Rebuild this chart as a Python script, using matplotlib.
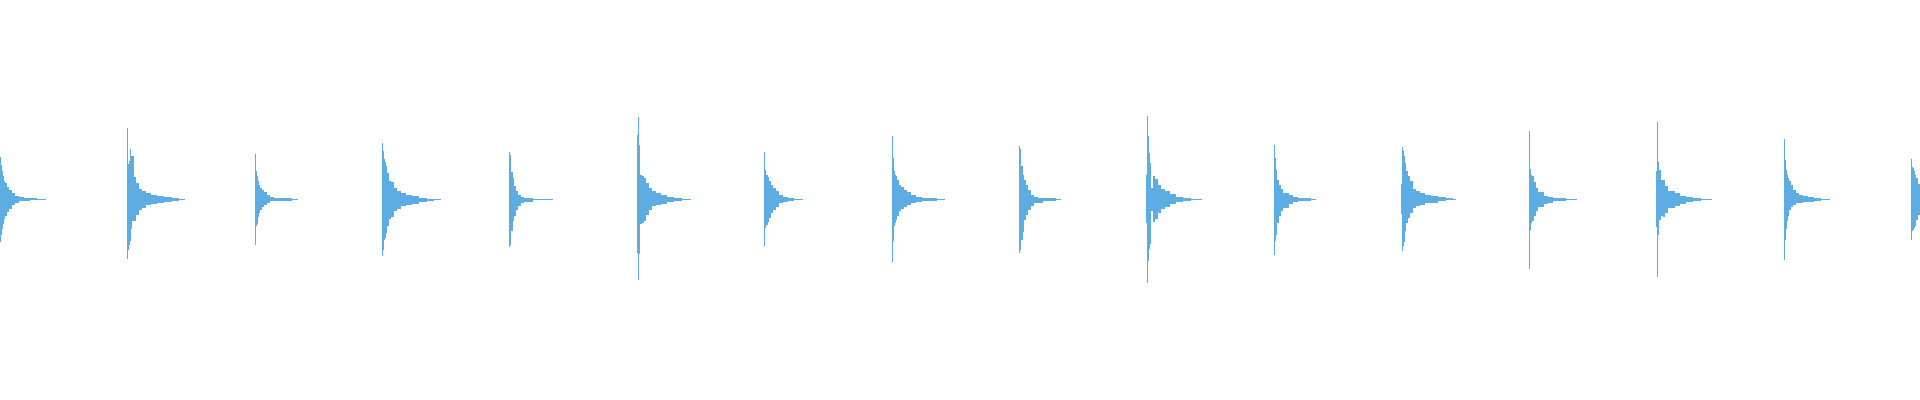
import matplotlib
matplotlib.use("Agg")
import matplotlib.pyplot as plt

# waveform of 16 drum hits, x = screen column, amplitude in level units
offsets = [0, 1, 2, 3, 4, 5, 7, 9, 12, 15, 19, 24, 30, 37, 45, 52]
onsets = [0, 127, 255, 382, 509, 637, 764, 892, 1019, 1146, 1274, 1401, 1529, 1656, 1784, 1911]
lengths = [46, 58, 43, 59, 44, 54, 39, 53, 42, 56, 42, 55, 48, 56, 46, 9]

tops = [
    [42, 34, 28, 23, 18, 16, 12, 9, 6, 3.5, 2, 1.3, 1, 0.7, 0.4],
    [71, 35, 38, 50, 43, 43, 22, 16, 10, 8, 6, 4.3, 3.3, 2, 1.3, 0.5],
    [45, 28, 23, 18, 14, 11, 9, 7, 4.3, 2.7, 1.7, 1, 1, 0.5],
    [56, 48, 40, 37, 33, 26, 18, 17, 11, 8, 6, 4.3, 3, 1, 0.5, 0.5],
    [47, 44, 27, 27, 21, 13, 8, 4.3, 2, 1.3, 1.3, 0.7, 0.7, 0.5],
    [64, 82, 54, 24, 24, 23, 21, 16, 11, 8, 6, 4.3, 2.7, 1.7, 0.6, 0.5],
    [47, 29, 24, 24, 22, 18, 14, 11, 8, 4.3, 2.7, 1.7, 0.5, 0.5],
    [63, 41, 28, 24, 23, 19, 14, 12, 9, 7, 4.3, 2.7, 1.3, 1.3, 0.5, 0.5],
    [53, 50, 33, 33, 24, 19, 14, 9, 4.3, 2.7, 1.7, 1, 1, 0.5],
    [24, 83, 63, 46, 36, 11, 23, 20, 14, 10, 8, 5, 2.6, 1.3, 0.5, 0.5],
    [54, 41, 29, 19, 19, 14, 10, 6.7, 6.7, 4.3, 2.7, 1.7, 1.7, 0.5],
    [15, 52, 48, 43, 36, 28, 23, 18, 10, 8, 6, 4.3, 3.3, 2, 1, 0.5],
    [68, 30, 24, 23, 23, 17, 11, 7, 7, 3.3, 2, 1, 1, 0.5, 0.5],
    [28, 77, 37, 29, 29, 19, 19, 13, 8, 8, 6, 3.3, 2, 1, 0.5, 0.5],
    [60, 39, 29, 24, 21, 18, 14, 9, 6, 4.5, 3.3, 2.5, 1.5, 0.5, 0.5],
    [40, 32, 31, 28, 24, 21, 15],
]
bottoms = [
    [43, 36, 30, 25, 20, 17, 13, 10, 6, 3.5, 2, 1.3, 1, 0.7, 0.4],
    [60, 51, 46, 42, 30, 22, 22, 16, 11, 8.5, 6, 4.7, 3.3, 2.3, 1.7, 0.5],
    [46, 27, 25, 18, 14, 11, 8, 6, 3.3, 2, 1.5, 1.3, 1.3, 0.5],
    [57, 51, 41, 39, 34, 27, 20, 18, 12, 10, 7, 6, 4.5, 2.5, 1.3, 0.5],
    [48, 46, 32, 32, 22, 17, 11, 7, 4, 2.3, 2.3, 0.7, 0.7, 0.5],
    [54, 81, 55, 25, 25, 24, 22, 16, 11, 7, 6, 4.7, 2.3, 1.3, 0.6, 0.5],
    [47, 29, 26, 26, 23, 19, 14, 11, 8, 4, 2.3, 1.3, 0.5, 0.5],
    [63, 42, 27, 24, 21, 17, 12, 10, 8, 6, 4, 2.7, 1.3, 1.3, 0.5, 0.5],
    [54, 51, 41, 41, 33, 21, 16, 11, 7, 4, 3.3, 1.3, 1.3, 0.5],
    [24, 84, 62, 50, 45, 12, 23, 20, 14, 10, 8, 5, 2.6, 1.3, 0.5, 0.5],
    [56, 42, 36, 24, 24, 17, 12, 9, 9, 4.7, 2.3, 1.3, 1.3, 0.5],
    [15, 52, 47, 43, 32, 24, 19, 14, 9, 7, 5.7, 4, 3.3, 1.3, 1, 0.5],
    [70, 31, 24, 22, 22, 17, 12, 8, 8, 4.7, 3.3, 1.3, 1.3, 0.5, 0.5],
    [28, 78, 36, 21, 21, 17, 18, 14, 9, 9, 7, 4.7, 3, 1.3, 0.5, 0.5],
    [61, 41, 30, 22, 17, 11, 8, 5.7, 4, 4, 2.3, 2.3, 1.3, 0.5, 0.5],
    [41, 32, 31, 29, 27, 21, 16],
]

color = "#5DADE2"

fig = plt.figure(figsize=(19.2, 4), dpi=100)
ax = fig.add_axes([0, 0, 1, 1])

for start, length, top, bot in zip(onsets, lengths, tops, bottoms):
    n = min(len(top), len(bot))
    xs = [start + o for o in offsets[:n] if o < length]
    k = len(xs)
    up = list(top[:k]) + [top[k - 1]]
    down = [-b for b in bot[:k]] + [-bot[k - 1]]
    xs = xs + [start + length]
    ax.fill_between(xs, down, up, step="post", color=color, linewidth=0)

ax.set_xlim(0, 1920)
ax.set_ylim(-200.7, 199.3)
ax.axis("off")

fig.savefig("out.png", dpi=100, facecolor="white")
